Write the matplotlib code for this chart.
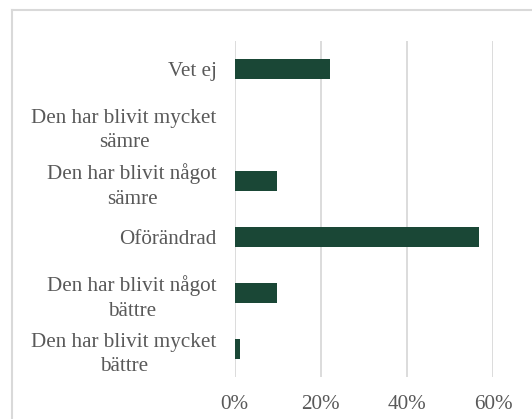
import matplotlib.pyplot as plt
from matplotlib.lines import Line2D
from matplotlib.ticker import PercentFormatter

categories = ['Den har blivit mycket\nbättre', 'Den har blivit något\nbättre', 'Oförändrad',
              'Den har blivit något\nsämre', 'Den har blivit mycket\nsämre', 'Vet ej']
values = [1.2, 9.7, 56.7, 9.7, 0.0, 22.1]
xticks = [0, 20, 40, 60]

plt.rcParams['font.family'] = ['Liberation Serif', 'DejaVu Serif']

fig = plt.figure(figsize=(5.32, 4.19), dpi=100)
W, H = 532, 419
ax = fig.add_axes([234.8 / W, 1 - 377 / H, (493 - 234.8) / W, (377 - 41) / H])

ax.barh(range(len(categories)), values, height=0.35, color='#1a4736',
        linewidth=0, zorder=3)
ax.set_yticks(range(len(categories)))
ax.set_yticklabels(categories, fontsize=15.2, color='#595959', linespacing=1.38,
                   multialignment='center')
ax.set_ylim(-0.5, len(categories) - 0.5)
ax.set_xlim(0, 60)
ax.set_xticks(xticks)
ax.xaxis.set_major_formatter(PercentFormatter(decimals=0))
ax.tick_params(axis='x', labelsize=15.2, labelcolor='#595959', length=0, pad=13)
ax.tick_params(axis='y', length=0, pad=13)
ax.grid(axis='x', color='#d9d9d9', linewidth=1.3, zorder=0)
for s in ax.spines.values():
    s.set_visible(False)

# chart border (top and left visible)
fig.add_artist(Line2D([11.5 / W, 11.5 / W], [0, 1 - 10.5 / H], color='#d9d9d9', lw=1.5))
fig.add_artist(Line2D([11.5 / W, 1], [1 - 10.5 / H, 1 - 10.5 / H], color='#d9d9d9', lw=1.5))

fig.savefig('out.png', dpi=100)
